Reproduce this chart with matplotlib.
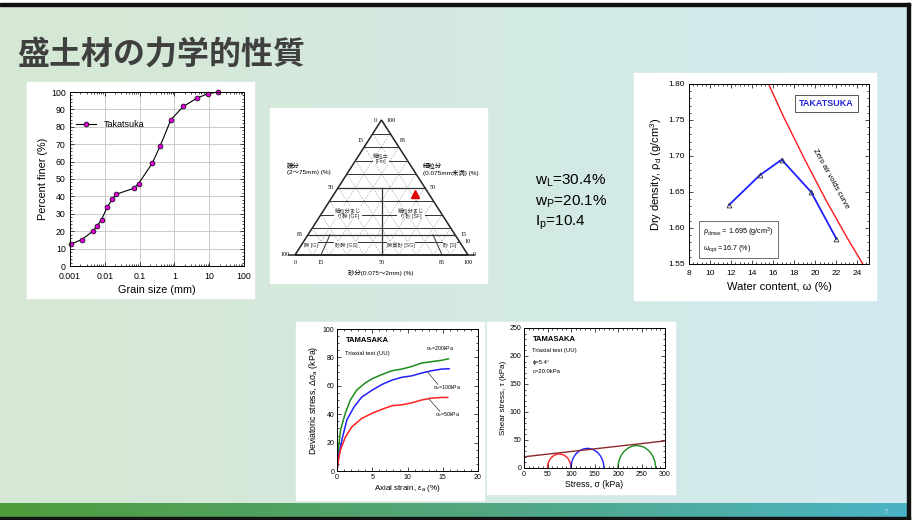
import numpy as np
import matplotlib.pyplot as plt
from matplotlib.colors import LinearSegmentedColormap
from matplotlib.patches import Rectangle, Arc, Polygon
from matplotlib.ticker import MultipleLocator, LogLocator, NullFormatter

plt.rcParams['font.family'] = ['Liberation Sans', 'Noto Sans CJK JP', 'DejaVu Sans']
plt.rcParams['mathtext.fontset'] = 'dejavusans'

# ---- data ----
# grain size distribution (Takatsuka)
grain_mm = [0.0011, 0.0022, 0.0045, 0.0061, 0.0081, 0.0118, 0.0165, 0.021, 0.067,
            0.093, 0.23, 0.39, 0.79, 1.8, 4.5, 9.1, 18.5]
pct_finer = [12.7, 15.2, 20.0, 23.1, 26.7, 34.0, 38.3, 41.2, 44.6,
             47.3, 59.0, 69.0, 84.0, 91.7, 96.5, 99.0, 100.0]

# ternary classification: sample composition (%)
sample_fines, sample_sand, sample_gravel = 45, 47, 8
tern_levels = [90, 80, 70, 60, 50, 40, 30, 20, 15, 10]

# consistency limits
w_L, w_P, I_p = 30.4, 20.1, 10.4

# compaction test
water = [11.8, 14.7, 16.8, 19.6, 22.0]
rho_d = [1.632, 1.673, 1.695, 1.650, 1.585]
zav_w = [15.5, 17, 19, 21, 23, 25]
zav_rho = [1.802, 1.754, 1.695, 1.639, 1.587, 1.538]
rho_dmax, w_opt = 1.695, 16.7

# triaxial test (UU), stress-strain
strain_200 = [0, 0.25, 0.5, 1.2, 1.9, 2.8, 4.0, 5.0, 6.4, 7.8, 9.2, 10.6, 12.0, 13.4, 14.9, 15.8]
dev_200 = [0, 18, 29, 41, 50, 57, 62, 65, 68, 70.6, 71.8, 73.6, 76, 77, 78, 79]
strain_100 = [0, 0.3, 0.7, 1.4, 2.4, 3.5, 5.0, 6.4, 7.8, 9.2, 10.6, 12.0, 13.4, 14.9, 15.9]
dev_100 = [0, 12, 22, 36, 45, 52, 57, 61, 64, 66, 67, 69, 70.6, 71.8, 72]
strain_50 = [0, 0.2, 0.5, 1.2, 2.1, 3.5, 5.0, 6.4, 7.8, 9.2, 10.6, 12.0, 13.4, 14.9, 15.7]
dev_50 = [0, 8, 15, 24, 31, 37, 40.7, 43.5, 46, 46.6, 48, 50, 51.3, 51.8, 51.8]

# Mohr circles
sigma3 = [50, 100, 200]
sigma1 = [100, 170, 280]
cohesion, phi_deg = 20.0, 5.4

W, H = 921, 520
fig = plt.figure(figsize=(W / 100, H / 100), dpi=100)


def px_axes(x0, y0, x1, y1):
    return fig.add_axes([x0 / W, 1 - y1 / H, (x1 - x0) / W, (y1 - y0) / H])


def style(ax, size):
    ax.tick_params(which='both', direction='in', top=True, right=True,
                   labelsize=size, width=0.5, pad=2)
    ax.tick_params(which='major', length=3)
    ax.tick_params(which='minor', length=1.5)
    for s in ax.spines.values():
        s.set_linewidth(0.7)


# ---- slide background in pixel coordinates ----
bg = fig.add_axes([0, 0, 1, 1], zorder=-10)
bg.set_xlim(0, W)
bg.set_ylim(H, 0)
bg.axis('off')
grad = np.linspace(0, 1, 256)[None, :]
bg.imshow(grad, extent=(0, 908, 517, 5), aspect='auto',
          cmap=LinearSegmentedColormap.from_list('bg', ['#d6e8d3', '#d2eaf0']))
bg.imshow(grad, extent=(0, 908, 517, 503), aspect='auto',
          cmap=LinearSegmentedColormap.from_list('bar', ['#4f9c3b', '#52a67c', '#4ab3c6']))
bg.add_patch(Rectangle((0, 2.5), 910, 3, color='#111111'))
bg.add_patch(Rectangle((907, 2.5), 3, 517, color='#111111'))
bg.add_patch(Rectangle((0, 517), 910, 3, color='#111111'))
bg.text(884, 512, '7', fontsize=6, color='#a6dce6', va='center')
bg.text(17, 55, '盛土材の力学的性質', fontsize=23, fontweight='bold', color='#3f3f3f',
        va='center', family=['Noto Sans CJK JP'])

# white panels
for x0, y0, x1, y1 in [(27, 82, 254, 298), (270, 108, 487, 283), (634, 73, 876, 300),
                       (296, 322, 484, 500), (487, 322, 675, 494)]:
    bg.add_patch(Rectangle((x0, y0), x1 - x0, y1 - y0, color='white'))

# ---- consistency limits ----
bg.text(535, 181, r'w$_\mathregular{L}$=%.1f%%' % w_L, fontsize=11, va='center')
bg.text(535, 202, r'w$_\mathregular{P}$=%.1f%%' % w_P, fontsize=11, va='center')
bg.text(535, 223, r'I$_\mathregular{p}$=%.1f' % I_p, fontsize=11, va='center')


# ---- ternary classification diagram ----
def tern(fines, sand):
    fines = np.asarray(fines, dtype=float)
    sand = np.asarray(sand, dtype=float)
    return 295 + 173 * (sand / 100 + fines / 200), 255 - 135 * fines / 100


for v in range(10, 100, 10):
    x, y = tern([0, 100 - v], [v, v])
    bg.plot(x, y, color='#9a9a9a', lw=0.4, ls=(0, (3, 2)))
    x, y = tern([0, 100 - v], [100 - v, 0])
    bg.plot(x, y, color='#9a9a9a', lw=0.4, ls=(0, (3, 2)))
for f in tern_levels:
    x, y = tern([f, f], [0, 100 - f])
    bg.plot(x, y, color='#333333', lw=0.9 if f in (50, 15) else 0.7)
x, y = tern([50, 0], [25, 50])
bg.plot(x, y, color='#333333', lw=0.9)
for r in (0.15, 0.85):
    x, y = tern([15, 0], [r * 85, r * 100])
    bg.plot(x, y, color='#333333', lw=0.7)
tx, ty = tern([0, 100, 0], [0, 0, 100])
bg.add_patch(Polygon(np.column_stack([tx, ty]), closed=True, fill=False, ec='#222222', lw=1.1))
bg.plot([289, 474], [255, 255], color='#222222', lw=1.1)
sx, sy = tern(sample_fines, sample_sand)
bg.plot(sx, sy, marker='^', ms=6, color='#e00000', ls='none')

tfs = 4.3
for lab, f in [('0', 100), ('15', 85), ('50', 50), ('85', 15), ('100', 0)]:
    x, y = tern(f, 0)
    bg.text(x - 5, y, lab, fontsize=tfs, ha='right', va='center', family=['Liberation Serif'])
for lab, f in [('100', 100), ('85', 85), ('50', 50), ('15', 15), ('10', 10), ('0', 0)]:
    x, y = tern(f, 100 - f)
    bg.text(x + 5, y, lab, fontsize=tfs, ha='left', va='center', family=['Liberation Serif'])
for lab, s in [('0', 0), ('15', 15), ('50', 50), ('85', 85), ('100', 100)]:
    x, y = tern(0, s)
    bg.text(x, y + 7, lab, fontsize=tfs, ha='center', va='center', family=['Liberation Serif'])
for txt, x, y in [('細粒土\n[Fm]', 381, 158), ('細粒分まじ\nり礫 [GF]', 348, 213),
                  ('細粒分まじ\nり砂 [SF]', 411, 213), ('礫 [G]', 311, 245),
                  ('砂礫 [GS]', 346, 245), ('礫質砂 [SG]', 401, 245), ('砂 [S]', 450, 245)]:
    bg.text(x, y, txt, fontsize=3.8, ha='center', va='center', color='#333333',
            bbox=dict(fc='white', ec='none', pad=0.3))
bg.text(287, 169, '礫分\n(2～75mm) (%)', fontsize=4.6, ha='left', va='center')
bg.text(423, 169, '細粒分\n(0.075mm未満) (%)', fontsize=4.6, ha='left', va='center')
bg.text(381, 273, '砂分(0.075～2mm) (%)', fontsize=4.6, ha='center', va='center')

# ---- grain size distribution ----
ax1 = px_axes(70, 92, 244, 266)
ax1.plot(grain_mm, pct_finer, color='black', lw=0.8, marker='o', ms=3.5,
         mfc='#e000d8', mec='black', mew=0.5, label='Takatsuka', clip_on=False)
ax1.set_xscale('log')
ax1.set_xlim(0.001, 100)
ax1.set_ylim(0, 100)
ax1.set_xticks([0.001, 0.01, 0.1, 1, 10, 100])
ax1.set_xticklabels(['0.001', '0.01', '0.1', '1', '10', '100'])
ax1.xaxis.set_minor_locator(LogLocator(subs=np.arange(2, 10)))
ax1.xaxis.set_minor_formatter(NullFormatter())
ax1.yaxis.set_major_locator(MultipleLocator(10))
ax1.yaxis.set_minor_locator(MultipleLocator(2))
ax1.grid(True, which='major', color='#c4c4c4', lw=0.6)
style(ax1, 6.3)
ax1.tick_params(axis='x', pad=4)
ax1.tick_params(axis='y', pad=3)
ax1.set_xlabel('Grain size (mm)', fontsize=7.8, labelpad=3)
ax1.set_ylabel('Percent finer (%)', fontsize=7.8, labelpad=2)
ax1.legend(loc='upper left', bbox_to_anchor=(0.0, 0.875), frameon=False, fontsize=6.5,
           handlelength=2.2, borderaxespad=0.3)

# ---- compaction curve ----
ax2 = px_axes(689, 84, 869, 264)
ax2.plot(zav_w, zav_rho, color='#ff1a1a', lw=1)
ax2.plot(water, rho_d, color='#1f1fff', lw=1.3)
ax2.plot(water, rho_d, ls='none', marker='^', ms=3.5, mfc='none', mec='#333333', mew=0.6)
ax2.set_xlim(8, 25.1)
ax2.set_ylim(1.55, 1.80)
ax2.xaxis.set_major_locator(MultipleLocator(2))
ax2.xaxis.set_minor_locator(MultipleLocator(0.4))
ax2.yaxis.set_major_locator(MultipleLocator(0.05))
ax2.yaxis.set_minor_locator(MultipleLocator(0.01))
style(ax2, 6)
ax2.tick_params(axis='x', pad=4)
ax2.tick_params(axis='y', pad=3)
ax2.set_xlabel('Water content, ω (%)', fontsize=8, labelpad=4)
ax2.set_ylabel(r'Dry density, ρ$_\mathregular{d}$ (g/cm$^\mathregular{3}$)', fontsize=8, labelpad=3)
ax2.text(21.45, 1.668, 'Zero air voids curve', fontsize=5.5, rotation=-61, ha='center', va='center')
ax2.text(0.765, 0.89, 'TAKATSUKA', transform=ax2.transAxes, fontsize=6.5, fontweight='bold',
         color='#2424d8', ha='center', va='center',
         bbox=dict(boxstyle='square,pad=0.45', fc='white', ec='#555555', lw=0.7))
ax2.text(0.08, 0.133, r'ρ$_\mathregular{dmax}$ = %.3f (g/cm$^\mathregular{3}$)' % rho_dmax + '\n'
         + r'ω$_\mathregular{opt}$ =%.1f (%%)' % w_opt,
         transform=ax2.transAxes, fontsize=5.2, va='center', linespacing=1.6,
         bbox=dict(boxstyle='square,pad=0.6', fc='white', ec='#555555', lw=0.6))

# ---- triaxial stress-strain ----
ax3 = px_axes(337, 329, 478, 471)
ax3.plot(strain_200, dev_200, color='#1a8c1a', lw=1.1)
ax3.plot(strain_100, dev_100, color='#2020ff', lw=1.1)
ax3.plot(strain_50, dev_50, color='#ff2020', lw=1.1)
ax3.set_xlim(0, 20)
ax3.set_ylim(0, 100)
ax3.xaxis.set_major_locator(MultipleLocator(5))
ax3.xaxis.set_minor_locator(MultipleLocator(1))
ax3.yaxis.set_major_locator(MultipleLocator(20))
ax3.yaxis.set_minor_locator(MultipleLocator(5))
style(ax3, 5)
ax3.set_xlabel(r'Axial strain, ε$_\mathregular{a}$ (%)', fontsize=5.8, labelpad=1.5)
ax3.set_ylabel(r'Deviatoric stress, Δσ$_\mathregular{a}$ (kPa)', fontsize=6.3, labelpad=2)
ax3.text(0.06, 0.905, 'TAMASAKA', transform=ax3.transAxes, fontsize=5.5, fontweight='bold')
ax3.text(0.06, 0.82, 'Triaxial test (UU)', transform=ax3.transAxes, fontsize=4.2)
ax3.text(12.6, 85, r'σ$_\mathregular{c}$=200kPa', fontsize=3.8)
ax3.text(13.6, 57.5, r'σ$_\mathregular{c}$=100kPa', fontsize=3.8)
ax3.text(13.9, 38.5, r'σ$_\mathregular{c}$=50kPa', fontsize=3.8)
ax3.plot([12.8, 14.3], [70, 61], color='#333333', lw=0.5)
ax3.plot([13.0, 14.6], [51, 42], color='#333333', lw=0.5)

# ---- Mohr circles ----
ax4 = px_axes(524, 328, 665, 468)
for s3, s1, col in zip(sigma3, sigma1, ['#ff2020', '#2020ff', '#1a8c1a']):
    ax4.add_patch(Arc(((s1 + s3) / 2, 0), s1 - s3, s1 - s3, theta1=0, theta2=180,
                      color=col, lw=1))
ax4.axline((0, cohesion), slope=np.tan(np.radians(phi_deg)), color='#8b2a2a', lw=1)
ax4.set_xlim(0, 300)
ax4.set_ylim(0, 250)
ax4.xaxis.set_major_locator(MultipleLocator(50))
ax4.xaxis.set_minor_locator(MultipleLocator(10))
ax4.yaxis.set_major_locator(MultipleLocator(50))
ax4.yaxis.set_minor_locator(MultipleLocator(10))
style(ax4, 5)
ax4.set_xlabel('Stress, σ (kPa)', fontsize=6.2, labelpad=1.5)
ax4.set_ylabel('Shear stress, τ (kPa)', fontsize=5.8, labelpad=2)
ax4.text(0.06, 0.905, 'TAMASAKA', transform=ax4.transAxes, fontsize=5.5, fontweight='bold')
ax4.text(0.06, 0.83, 'Triaxial test (UU)', transform=ax4.transAxes, fontsize=4.2)
ax4.text(0.06, 0.74, 'ϕ=%.1f°' % phi_deg, transform=ax4.transAxes, fontsize=4.2)
ax4.text(0.06, 0.68, 'c=%.1fkPa' % cohesion, transform=ax4.transAxes, fontsize=4.2)

fig.savefig('out.png', dpi=100)
